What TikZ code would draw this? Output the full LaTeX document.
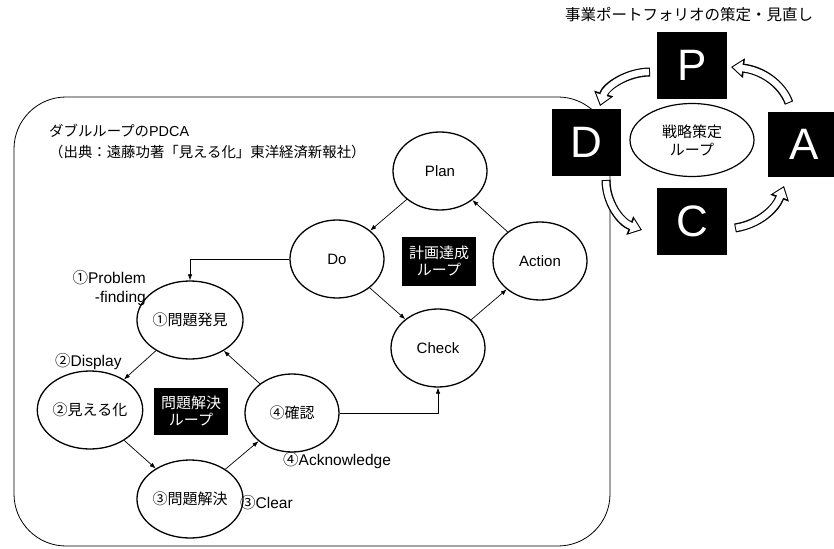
\documentclass[tikz,border=0pt]{standalone}
\usepackage{fontspec}
\setmainfont{Liberation Sans}
\newfontfamily\jp{Noto Sans CJK JP}
\usetikzlibrary{arrows.meta,shapes.geometric}
\begin{document}
\begin{tikzpicture}[x=1pt,y=-1pt,
  el/.style={draw, ellipse, line width=1.3pt, minimum width=94pt, minimum height=78pt, inner sep=0pt, font=\fontsize{15}{17}\selectfont},
  conn/.style={line width=0.7pt, -{Latex[length=6pt,width=4.5pt]}},
  blackbox/.style={fill=black, text=white, inner sep=0pt, align=center, font=\jp\fontsize{15}{17}\selectfont},
  letterbox/.style={fill=black, text=white, inner sep=0pt, font=\fontsize{44}{44}\selectfont},
  lbl/.style={font=\fontsize{15.5}{19}\selectfont, inner sep=0pt},
  harrowout/.style={line width=9pt, -{Triangle[length=13pt,width=19pt]}},
  harrowin/.style={white, line width=6.4pt, shorten >=1.8pt, shorten <=1pt, -{Triangle[length=9.5pt,width=14pt]}}
]
\useasboundingbox (0,0) rectangle (834,548);
% outer frame
\draw[line width=0.8pt, rounded corners=52pt] (14,97) rectangle (610,546);
% title
\node[lbl, anchor=west, align=left, font=\jp\fontsize{14.4}{21}\selectfont] (title) at (49,142) {ダブルループの{\rmfamily PDCA}\\（出典：遠藤功著「見える化」東洋経済新報社）};
% upper loop
\node[el] (plan) at (440,171) {Plan};
\node[el] (do) at (337,259) {Do};
\node[el] (act) at (540,261) {Action};
\node[el] (chk) at (438,348) {Check};
\node[blackbox, minimum width=74pt, minimum height=49pt] (loopA) at (439,261) {計画達成\\ループ};
% lower loop
\node[el, font=\jp\fontsize{15}{17}\selectfont] (p1) at (190,320) {①問題発見};
\node[el, font=\jp\fontsize{15}{17}\selectfont] (p2) at (90,410) {②見える化};
\node[el, font=\jp\fontsize{15}{17}\selectfont] (p4) at (292,413) {④確認};
\node[el, font=\jp\fontsize{15}{17}\selectfont] (p3) at (190,499) {③問題解決};
\node[blackbox, minimum width=74pt, minimum height=47pt] (loopB) at (191,411) {問題解決\\ループ};
% labels
\node[lbl, anchor=east, align=right] (l1) at (146,288) {{\jp ①}Problem\\-finding};
\node[lbl, anchor=west] (l2) at (55,362) {{\jp ②}Display};
\node[lbl, anchor=west] (l4) at (283,461) {{\jp ④}Acknowledge};
\node[lbl, anchor=west] (l3) at (240,503) {{\jp ③}Clear};
% connectors
\draw[conn] (plan) -- (do);
\draw[conn] (do) -- (chk);
\draw[conn] (chk) -- (act);
\draw[conn] (act) -- (plan);
\draw[conn] (do.west) -| (p1.north);
\draw[conn] (p4.east) -| (chk.south);
\draw[conn] (p1) -- (p2);
\draw[conn] (p2) -- (p3);
\draw[conn] (p3) -- (p4);
\draw[conn] (p4) -- (p1);
% right PDCA
\node[lbl, font=\jp\fontsize{15.5}{17}\selectfont] (top) at (689,15) {事業ポートフォリオの策定・見直し};
\node[letterbox, minimum width=70pt, minimum height=67pt] (P) at (692,65.5) {P};
\node[letterbox, minimum width=69pt, minimum height=67pt] (D) at (586.5,142.5) {D};
\node[letterbox, minimum width=72pt, minimum height=65pt] (A) at (804,144.5) {A};
\node[letterbox, minimum width=70pt, minimum height=67pt] (C) at (692,221.5) {C};
\node[draw, ellipse, line width=1.2pt, minimum width=124pt, minimum height=73pt, align=center, inner sep=0pt, font=\jp\fontsize{15}{18}\selectfont] (strat) at (692,140) {戦略策定\\ループ};
% hollow arrows
\coordinate (t1) at (650,72); \coordinate (h1) at (600,106);
\coordinate (t2) at (789,103); \coordinate (h2) at (731,67);
\coordinate (t3) at (606,180); \coordinate (h3) at (642,230);
\coordinate (t4) at (735,228); \coordinate (h4) at (784,186);
\foreach \s in {harrowout,harrowin}{
  \draw[\s] (t1) .. controls (628,72) and (606,86) .. (h1);
  \draw[\s] (t2) .. controls (782,84) and (762,70) .. (h2);
  \draw[\s] (t3) .. controls (606,202) and (620,222) .. (h3);
  \draw[\s] (t4) .. controls (760,224) and (776,208) .. (h4);
}
\end{tikzpicture}
\end{document}
